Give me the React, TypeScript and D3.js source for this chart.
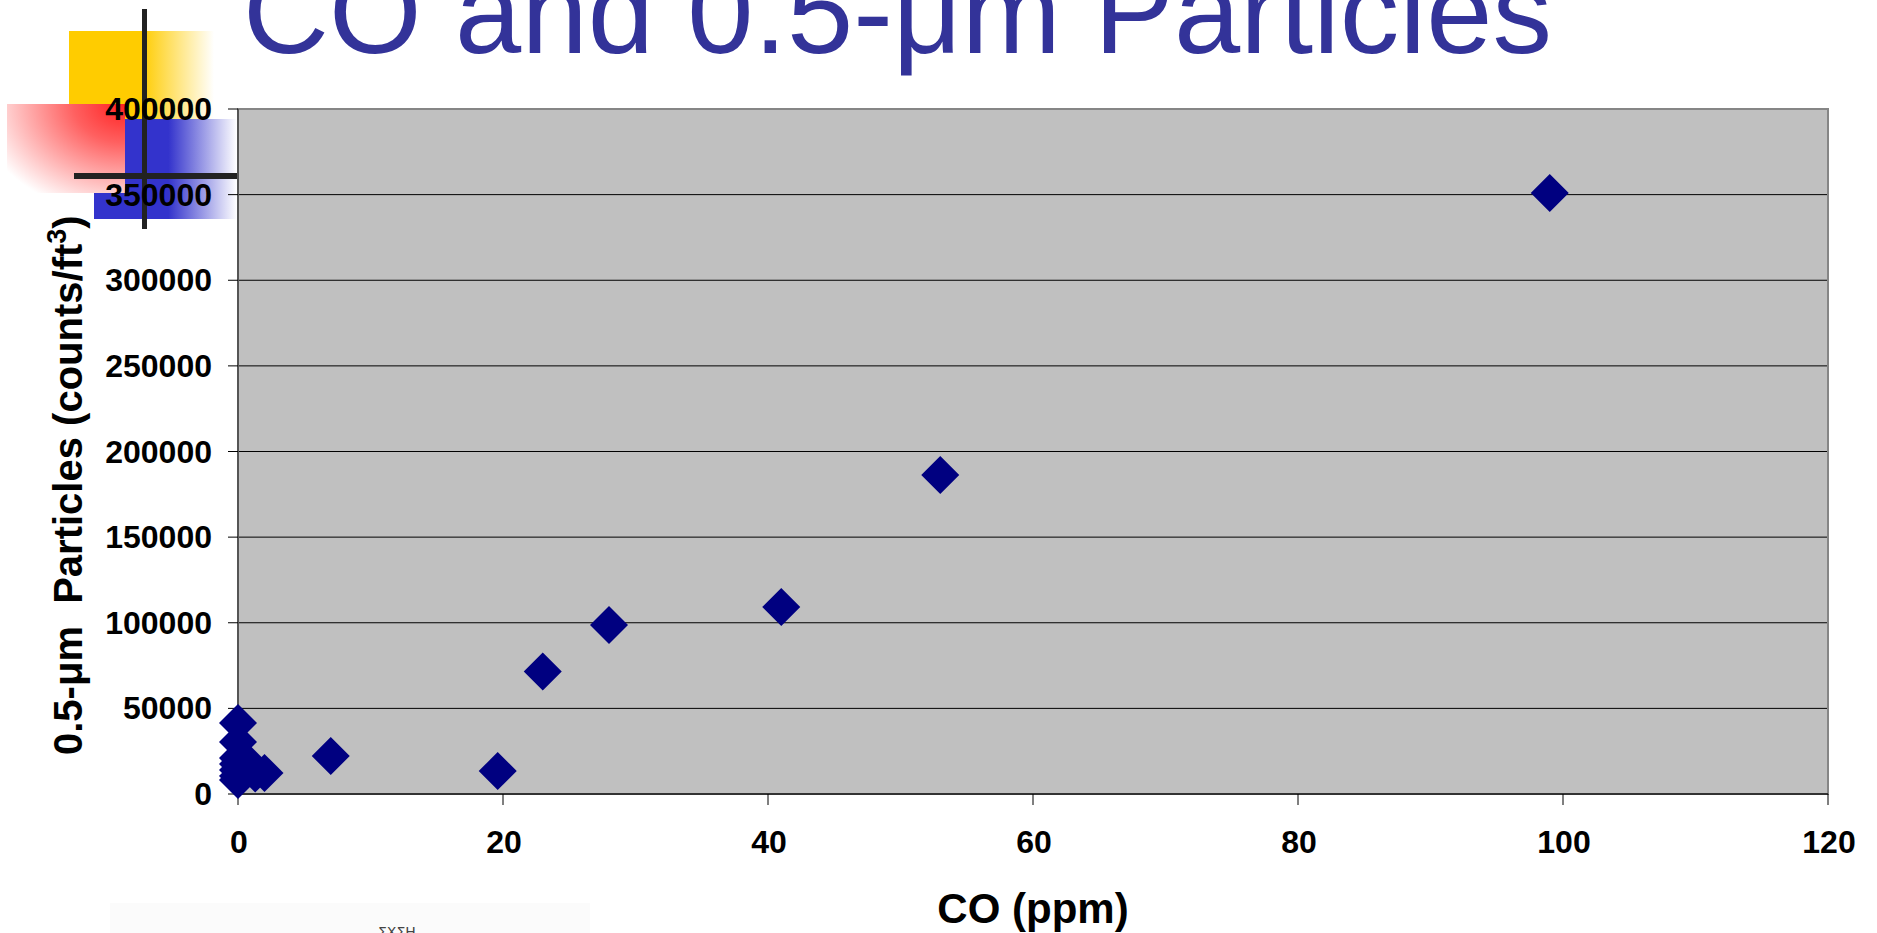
import React from "react";
import * as d3 from "d3";

const coPpm = [0, 0, 0, 0, 0, 0, 0, 1, 1.3, 2, 7, 19.6, 23, 28, 41, 53, 99];
const particles = [41500, 30400, 21000, 17500, 14000, 10500, 8200, 16500, 12000, 12300, 22200, 13400, 71500, 98700, 109200, 186300, 351000];
const xTicks = [0, 20, 40, 60, 80, 100, 120];
const yTicks = [0, 50000, 100000, 150000, 200000, 250000, 300000, 350000, 400000];

const titleText = "CO and 0.5-\u03bcm Particles";
const xTitle = "CO (ppm)";

const W = 1877;
const H = 933;
const plot = { left: 238, right: 1828, top: 109, bottom: 794 };

export default function App() {
  const x = d3.scaleLinear().domain([0, 120]).range([plot.left, plot.right]);
  const y = d3.scaleLinear().domain([0, 400000]).range([plot.bottom, plot.top]);
  const marker = d3.symbol().type(d3.symbolSquare).size(26.9 * 26.9)() as string;
  const font = "'Liberation Sans', Arial, sans-serif";

  return (
    <svg width={W} height={H} style={{ position: "absolute", left: 0, top: 0, background: "#fff" }}>
      <defs>
        <linearGradient id="gY" x1="0" x2="1" y1="0" y2="0">
          <stop offset="0" stopColor="#FFCC00" />
          <stop offset="0.5" stopColor="#FFCC00" />
          <stop offset="1" stopColor="#FFFFFF" />
        </linearGradient>
        <linearGradient id="gB" x1="0" x2="1" y1="0" y2="0">
          <stop offset="0" stopColor="#3333CC" />
          <stop offset="0.52" stopColor="#3333CC" />
          <stop offset="1" stopColor="#FFFFFF" />
        </linearGradient>
        <radialGradient id="gR" cx="1" cy="0" r="1.25" fx="1" fy="0">
          <stop offset="0" stopColor="#FF2020" />
          <stop offset="0.35" stopColor="#FF6060" />
          <stop offset="1" stopColor="#FFFFFF" />
        </radialGradient>
      </defs>

      {/* decoration */}
      <rect x={69} y={31} width={145} height={88} fill="url(#gY)" />
      <rect x={94} y={119} width={143} height={100} fill="url(#gB)" />
      <rect x={7} y={104} width={118} height={89} fill="url(#gR)" />
      <rect x={142} y={9} width={5} height={220} fill="#222" />
      <rect x={74} y={173} width={166} height={6} fill="#222" />

      {/* title */}
      <text x={243} y={53} fontFamily={font} fontSize={119} fill="#333399" textLength={1309} lengthAdjust="spacing">
        {titleText}
      </text>

      {/* plot area */}
      <rect x={plot.left} y={plot.top} width={plot.right - plot.left} height={plot.bottom - plot.top} fill="#C0C0C0" />
      {yTicks.map((t) => (
        <line key={"g" + t} x1={plot.left} x2={plot.right} y1={y(t)} y2={y(t)} stroke="#000" strokeWidth={1} />
      ))}
      <rect x={plot.left} y={plot.top} width={plot.right - plot.left} height={plot.bottom - plot.top} fill="none" stroke="#868686" strokeWidth={2} />
      <line x1={plot.left} x2={plot.left} y1={plot.top} y2={plot.bottom} stroke="#555" strokeWidth={2} />
      <line x1={plot.left} x2={plot.right} y1={plot.bottom} y2={plot.bottom} stroke="#333" strokeWidth={2} />

      {/* y ticks and labels */}
      {yTicks.map((t) => (
        <g key={"y" + t}>
          <line x1={plot.left - 10} x2={plot.left} y1={y(t)} y2={y(t)} stroke="#000" strokeWidth={1} />
          <text x={212} y={y(t) + 11} textAnchor="end" fontFamily={font} fontWeight="bold" fontSize={32} fill="#000">
            {t}
          </text>
        </g>
      ))}

      {/* x ticks and labels */}
      {xTicks.map((t) => (
        <g key={"x" + t}>
          <line x1={x(t)} x2={x(t)} y1={plot.bottom} y2={plot.bottom + 11} stroke="#000" strokeWidth={1} />
          <text x={x(t) + 1} y={853} textAnchor="middle" fontFamily={font} fontWeight="bold" fontSize={32} fill="#000">
            {t}
          </text>
        </g>
      ))}

      {/* markers */}
      {coPpm.map((c, i) => (
        <path key={"p" + i} d={marker} transform={`translate(${x(c)},${y(particles[i])}) rotate(45)`} fill="#000080" />
      ))}

      {/* axis titles */}
      <text x={(plot.left + plot.right) / 2} y={923} textAnchor="middle" fontFamily={font} fontWeight="bold" fontSize={42} fill="#000">
        {xTitle}
      </text>
      <text
        transform="translate(82,755) rotate(-90)"
        fontFamily={font}
        fontWeight="bold"
        fontSize={40}
        fill="#000"
        style={{ whiteSpace: "pre" }}
      >
        <tspan>{"0.5-\u03bcm  Particles (counts/ft"}</tspan>
        <tspan fontSize={27} dy={-16}>3</tspan>
        <tspan dy={16}>)</tspan>
      </text>

      {/* faint bottom-left artifact */}
      <rect x={110} y={903} width={480} height={30} fill="#FBFBFB" />
      <text x={378} y={937} fontFamily="'DejaVu Sans', sans-serif" fontSize={14} fill="#444">
        {"\u03a3\u03a7\u03a3\u0397"}
      </text>
    </svg>
  );
}
